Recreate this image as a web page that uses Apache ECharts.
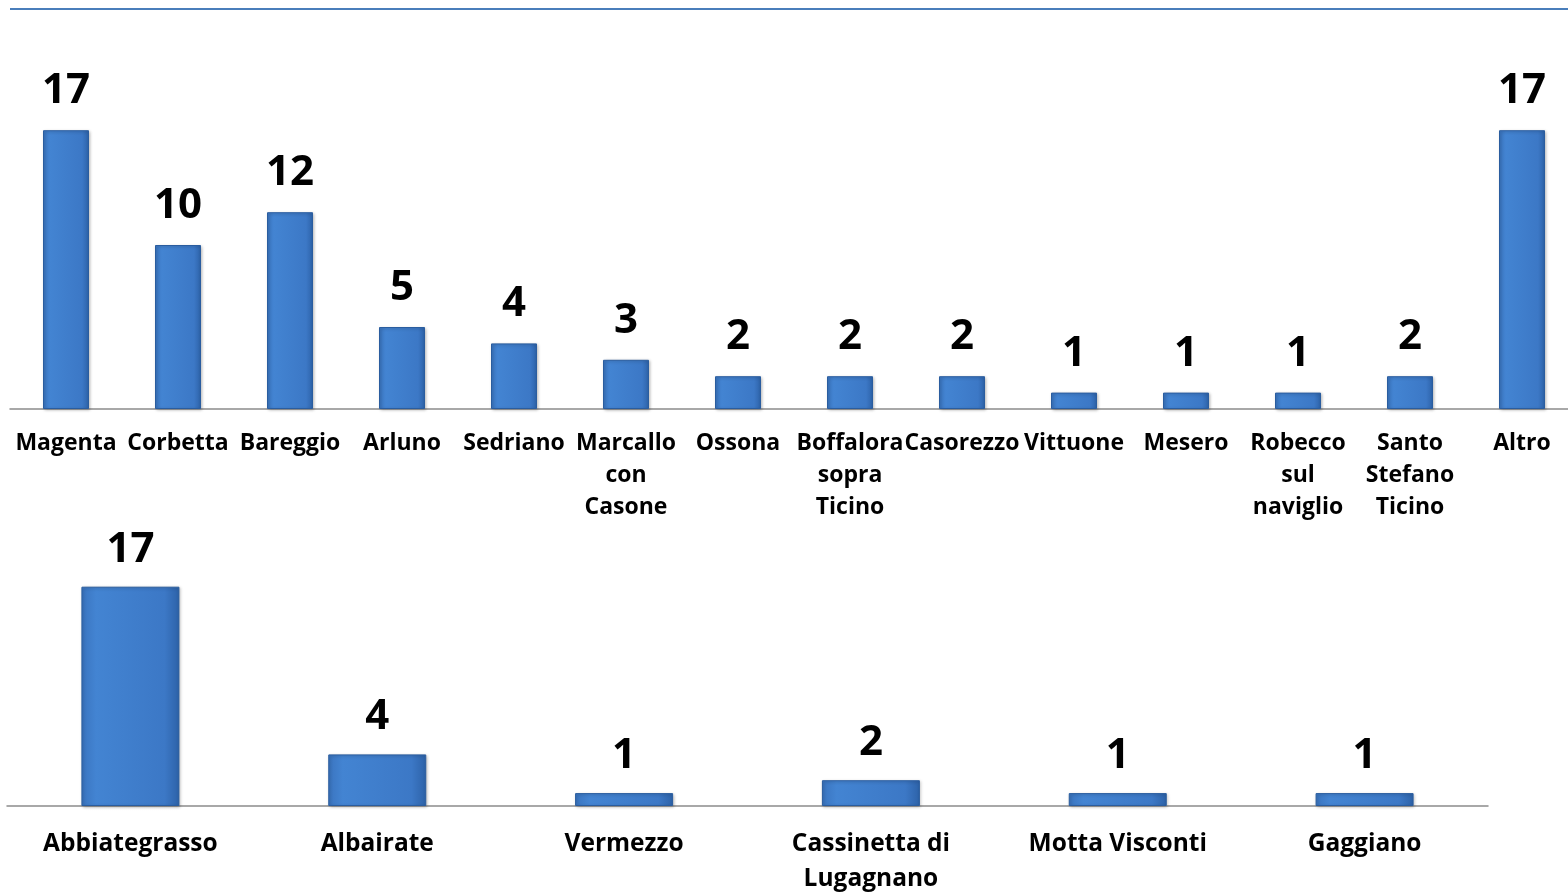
<!DOCTYPE html>
<html>
<head>
<meta charset="utf-8">
<script src="https://cdn.jsdelivr.net/npm/echarts@6/dist/echarts.min.js"></script>
<style>
html,body{margin:0;padding:0;background:#fff;}
#chart{width:1568px;height:895px;}
</style>
</head>
<body>
<div id="chart"></div>
<script>
var topCategories = ["Magenta","Corbetta","Bareggio","Arluno","Sedriano","Marcallo\ncon\nCasone","Ossona","Boffalora\nsopra\nTicino","Casorezzo","Vittuone","Mesero","Robecco\nsul\nnaviglio","Santo\nStefano\nTicino","Altro"];
var topValues = [17,10,12,5,4,3,2,2,2,1,1,1,2,17];
var bottomCategories = ["Abbiategrasso","Albairate","Vermezzo","Cassinetta di\nLugagnano","Motta Visconti","Gaggiano"];
var bottomValues = [17,4,1,2,1,1];

var font = "'Open Sans', sans-serif";
var barColor = new echarts.graphic.LinearGradient(0,0,1,0,[
  {offset:0,color:'#3a74bf'},
  {offset:0.15,color:'#4384d2'},
  {offset:0.85,color:'#3c78c6'},
  {offset:1,color:'#2d62a8'}
]);
var itemStyle = {color: barColor, borderColor:'#2a5d9f', borderWidth:1, shadowColor:'rgba(0,0,0,0.25)', shadowBlur:3, shadowOffsetX:1, shadowOffsetY:1};
function valueLabel(dist){
  return {show:true, position:'top', distance:dist, fontFamily:font, fontWeight:'bold', fontSize:42, color:'#000'};
}
function catAxis(idx, cats, margin, size, lh){
  return {type:'category', gridIndex:idx, data:cats,
    axisLine:{show:true, lineStyle:{color:'#8c8c8c', width:1.5}},
    axisTick:{show:false},
    axisLabel:{interval:0, margin:margin, fontFamily:font, fontWeight:'bold', fontSize:size, color:'#000', lineHeight:lh, verticalAlign:'top'}
  };
}
var chart = echarts.init(document.getElementById('chart'));
chart.setOption({
  animation:false,
  backgroundColor:'#fff',
  graphic:[{type:'line', shape:{x1:10,y1:9,x2:1568,y2:9}, style:{stroke:'#4a7ebb', lineWidth:2}}],
  grid:[
    {left:10, width:1568, top:81, bottom:486, outerBoundsMode:'none', containLabel:false},
    {left:7, width:1481, top:548, bottom:89, outerBoundsMode:'none', containLabel:false}
  ],
  xAxis:[catAxis(0, topCategories, 18, 23, 32), catAxis(1, bottomCategories, 21, 24.5, 35)],
  yAxis:[
    {type:'value', gridIndex:0, min:0, max:20, show:false, splitLine:{show:false}},
    {type:'value', gridIndex:1, min:0, max:20, show:false, splitLine:{show:false}}
  ],
  series:[
    {type:'bar', xAxisIndex:0, yAxisIndex:0, data:topValues, barWidth:46, itemStyle:itemStyle, label:valueLabel(18)},
    {type:'bar', xAxisIndex:1, yAxisIndex:1, data:bottomValues, barWidth:98, itemStyle:itemStyle, label:valueLabel(16)}
  ]
});
</script>
</body>
</html>
